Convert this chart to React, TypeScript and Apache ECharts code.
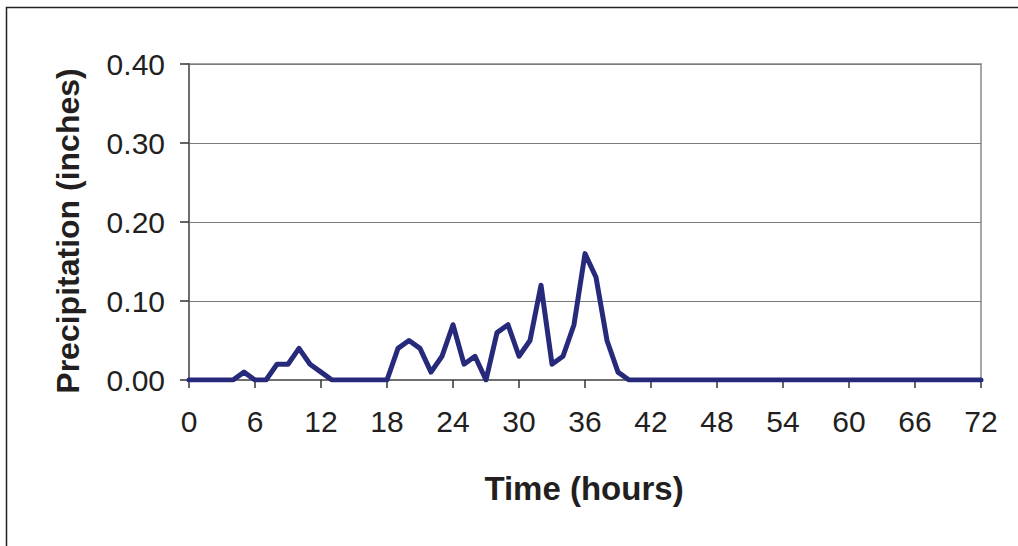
import React, { useEffect, useRef } from "react";
import * as echarts from "echarts";

const hours = [
  0, 1, 2, 3, 4, 5, 6, 7, 8, 9, 10, 11, 12, 13, 14, 15, 16, 17, 18, 19, 20, 21, 22, 23, 24,
  25, 26, 27, 28, 29, 30, 31, 32, 33, 34, 35, 36, 37, 38, 39, 40, 41, 42, 43, 44, 45, 46, 47, 48,
  49, 50, 51, 52, 53, 54, 55, 56, 57, 58, 59, 60, 61, 62, 63, 64, 65, 66, 67, 68, 69, 70, 71, 72,
];

const precipitation = [
  0, 0, 0, 0, 0, 0.01, 0, 0, 0.02, 0.02, 0.04, 0.02, 0.01, 0, 0, 0, 0, 0, 0, 0.04, 0.05, 0.04, 0.01, 0.03, 0.07,
  0.02, 0.03, 0, 0.06, 0.07, 0.03, 0.05, 0.12, 0.02, 0.03, 0.07, 0.16, 0.13, 0.05, 0.01, 0, 0, 0, 0, 0, 0, 0, 0, 0,
  0, 0, 0, 0, 0, 0, 0, 0, 0, 0, 0, 0, 0, 0, 0, 0, 0, 0, 0, 0, 0, 0, 0, 0,
];

const xTitle = "Time (hours)";
const yTitle = "Precipitation (inches)";

const FONT = "'Liberation Sans', Arial, sans-serif";

export default function App() {
  const ref = useRef<HTMLDivElement>(null);

  useEffect(() => {
    if (!ref.current) return;
    const chart = echarts.init(ref.current, undefined, { renderer: "svg" });
    const data = hours.map((h, i) => [h, precipitation[i]]);
    chart.setOption({
      animation: false,
      backgroundColor: "#ffffff",
      grid: {
        left: 189,
        top: 64,
        right: 37,
        bottom: 166,
        show: true,
        borderColor: "#a6a6a6",
        borderWidth: 2,
      },
      xAxis: {
        type: "value",
        min: 0,
        max: 72,
        interval: 6,
        axisLine: { show: true, lineStyle: { color: "#6e6e6e", width: 2 } },
        axisTick: { show: true, inside: false, length: 8, lineStyle: { color: "#333", width: 1.5 } },
        axisLabel: { fontSize: 30, color: "#231f20", fontFamily: FONT, margin: 26 },
        splitLine: { show: false },
      },
      yAxis: {
        type: "value",
        min: 0,
        max: 0.4,
        interval: 0.1,
        axisLine: { show: true, lineStyle: { color: "#6e6e6e", width: 2 } },
        axisTick: { show: true, inside: false, length: 9, lineStyle: { color: "#333", width: 1.5 } },
        axisLabel: {
          fontSize: 30,
          color: "#231f20",
          fontFamily: FONT,
          margin: 24,
          formatter: (v: number) => v.toFixed(2),
        },
        splitLine: { show: true, lineStyle: { color: "#7a7a7a", width: 1.2 } },
      },
      series: [
        {
          type: "line",
          data,
          showSymbol: false,
          lineStyle: { color: "#27297a", width: 5, join: "round", cap: "round" },
          itemStyle: { color: "#27297a" },
        },
      ],
      graphic: [
        {
          type: "rect",
          shape: { x: 6.5, y: 7.5, width: 1100, height: 600 },
          style: { fill: "none", stroke: "#222", lineWidth: 1.5 },
          silent: true,
          z: 100,
        },
        {
          type: "text",
          x: 584,
          y: 488,
          style: {
            text: xTitle,
            font: `bold 33px ${FONT}`,
            fill: "#231f20",
            align: "center",
            verticalAlign: "middle",
          },
        },
        {
          type: "text",
          x: 68,
          y: 231,
          rotation: Math.PI / 2,
          style: {
            text: yTitle,
            font: `bold 32px ${FONT}`,
            fill: "#231f20",
            align: "center",
            verticalAlign: "middle",
          },
        },
      ],
    });
    return () => chart.dispose();
  }, []);

  return (
    <div
      ref={ref}
      style={{ position: "absolute", left: 0, top: 0, width: 1018, height: 546 }}
    />
  );
}
